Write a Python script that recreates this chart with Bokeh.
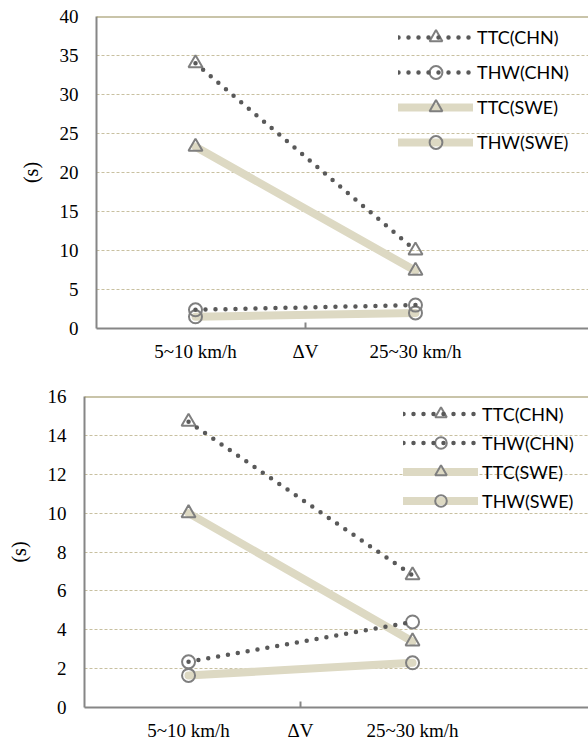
from bokeh.plotting import figure
from bokeh.models import Range1d, FixedTicker, Span, Legend, LegendItem
from bokeh.layouts import column
from bokeh.embed import file_html
from bokeh.resources import INLINE

categories = ["5~10 km/h", "25~30 km/h"]
axis_title = "ΔV"

# top chart
top_ttc_chn = [34.0, 10.0]
top_thw_chn = [2.4, 3.0]
top_ttc_swe = [23.3, 7.4]
top_thw_swe = [1.5, 2.0]
top_yticks = [0, 5, 10, 15, 20, 25, 30, 35, 40]

# bottom chart
bot_ttc_chn = [14.7, 6.8]
bot_thw_chn = [2.35, 4.4]
bot_ttc_swe = [10.0, 3.4]
bot_thw_swe = [1.65, 2.3]
bot_yticks = [0, 2, 4, 6, 8, 10, 12, 14, 16]

series_names = ["TTC(CHN)", "THW(CHN)", "TTC(SWE)", "THW(SWE)"]

XS = [1 + 2 * i for i in range(len(categories))]
MID = (XS[0] + XS[-1]) / 2

GRAY = "#7F7F7F"
DOT = "#595959"
TAN = "#DDD9C3"
SERIF = "'Liberation Serif', 'Times New Roman', serif"


def make_chart(vals, yticks, height, border_left, border_top, border_bottom,
               xr, leg_x, leg_y, leg_item_h, leg_spacing):
    ymax = yticks[-1]
    p = figure(width=588, height=height, output_backend="svg", toolbar_location=None,
               x_range=Range1d(*xr), y_range=Range1d(0, ymax),
               min_border_left=border_left, min_border_right=0,
               min_border_top=border_top, min_border_bottom=border_bottom,
               frame_align=False)
    p.outline_line_color = None
    p.background_fill_color = "white"
    p.border_fill_color = "white"
    p.xgrid.grid_line_color = None
    p.ygrid.ticker = FixedTicker(ticks=yticks[1:-1])
    p.ygrid.grid_line_color = "#C8C0A0"
    p.ygrid.grid_line_width = 1
    p.ygrid.grid_line_dash = "3 2"

    # y axis
    p.yaxis.ticker = FixedTicker(ticks=yticks)
    p.yaxis.major_tick_in = 0
    p.yaxis.major_tick_out = 0
    p.yaxis.minor_tick_line_color = None
    p.yaxis.axis_line_color = "#868686"
    p.yaxis.axis_line_width = 2
    p.yaxis.major_label_text_font = SERIF
    p.yaxis.major_label_text_font_size = "19px"
    p.yaxis.major_label_text_color = "black"
    p.yaxis.major_label_standoff = 18
    p.yaxis.axis_label = "(s)"
    p.yaxis.axis_label_text_font = SERIF
    p.yaxis.axis_label_text_font_size = "20px"
    p.yaxis.axis_label_text_font_style = "normal"
    p.yaxis.axis_label_text_color = "black"
    p.yaxis.axis_label_standoff = 15

    # x axis
    labels = {XS[0]: categories[0], MID: axis_title, XS[1]: categories[1]}
    p.xaxis.ticker = FixedTicker(ticks=[XS[0], MID, XS[1]], minor_ticks=[MID])
    p.xaxis.major_label_overrides = labels
    p.xaxis.major_tick_line_color = None
    p.xaxis.major_tick_out = 0
    p.xaxis.major_tick_in = 0
    p.xaxis.minor_tick_line_color = "#868686"
    p.xaxis.minor_tick_line_width = 2
    p.xaxis.minor_tick_in = 6
    p.xaxis.minor_tick_out = 0
    p.xaxis.axis_line_color = "#868686"
    p.xaxis.axis_line_width = 2
    p.xaxis.major_label_text_font = SERIF
    p.xaxis.major_label_text_font_size = "19px"
    p.xaxis.major_label_text_color = "black"
    p.xaxis.major_label_standoff = 12

    p.add_layout(Span(location=ymax, dimension="width", line_color="#948A54", line_width=2))

    ttc_chn, thw_chn, ttc_swe, thw_swe = vals
    r_l3 = p.line(XS, ttc_swe, line_color=TAN, line_width=8, line_cap="round")
    r_l4 = p.line(XS, thw_swe, line_color=TAN, line_width=8, line_cap="round")
    r_m3 = p.scatter(XS, ttc_swe, marker="triangle", size=14, fill_color=None,
                     line_color=GRAY, line_width=2)
    r_m4 = p.scatter(XS, thw_swe, marker="circle", size=13, fill_color=None,
                     line_color=GRAY, line_width=2)
    r_m1 = p.scatter(XS, ttc_chn, marker="triangle", size=14, fill_color=None,
                     line_color=GRAY, line_width=2)
    r_m2 = p.scatter(XS, thw_chn, marker="circle", size=13, fill_color=None,
                     line_color=GRAY, line_width=2)
    r_l1 = p.line(XS, ttc_chn, line_color=DOT, line_width=4.5, line_dash="0 10",
                  line_cap="round")
    r_l2 = p.line(XS, thw_chn, line_color=DOT, line_width=4.5, line_dash="0 10",
                  line_cap="round")

    items = [
        LegendItem(label=series_names[0], renderers=[r_m1, r_l1]),
        LegendItem(label=series_names[1], renderers=[r_m2, r_l2]),
        LegendItem(label=series_names[2], renderers=[r_l3, r_m3]),
        LegendItem(label=series_names[3], renderers=[r_l4, r_m4]),
    ]
    leg = Legend(items=items, location=(leg_x, leg_y), orientation="vertical",
                 background_fill_alpha=0, border_line_color=None,
                 glyph_width=75, glyph_height=leg_item_h, label_height=20,
                 label_standoff=4, spacing=leg_spacing, padding=0, margin=0,
                 label_text_font="Lato", label_text_font_size="18px",
                 label_text_color="black")
    p.add_layout(leg, "center")
    return p


p1 = make_chart([top_ttc_chn, top_thw_chn, top_ttc_swe, top_thw_swe], top_yticks,
                height=376, border_left=96, border_top=16, border_bottom=48,
                xr=(0.1, 4.573), leg_x=302, leg_y=170, leg_item_h=32, leg_spacing=3)
p2 = make_chart([bot_ttc_chn, bot_thw_chn, bot_ttc_swe, bot_thw_swe], bot_yticks,
                height=367, border_left=84, border_top=20, border_bottom=36,
                xr=(0.071, 4.571), leg_x=319, leg_y=192, leg_item_h=29, leg_spacing=0)

layout = column(p1, p2, spacing=0)
open("out.html", "w").write(file_html(layout, INLINE))
